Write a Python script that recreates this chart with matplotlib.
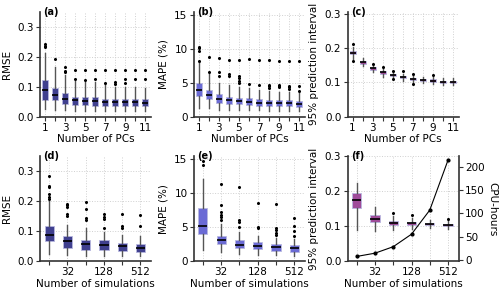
import matplotlib
matplotlib.use("Agg")
import matplotlib.pyplot as plt

# ---- data ----
n_pcs = list(range(1, 12))
pc_ticklabels = ["1", "", "3", "", "5", "", "7", "", "9", "", "11"]

n_sims = [16, 32, 64, 128, 256, 512]
sim_ticklabels = ["", "32", "", "128", "", "512"]

# (a) RMSE vs number of PCs: q1, median, q3, whisker low, whisker high, fliers
rmse_pc_q1 = [0.057, 0.057, 0.042, 0.037, 0.037, 0.036, 0.035, 0.034, 0.034, 0.034, 0.034]
rmse_pc_med = [0.090, 0.072, 0.060, 0.054, 0.053, 0.052, 0.048, 0.047, 0.047, 0.047, 0.046]
rmse_pc_q3 = [0.122, 0.097, 0.080, 0.066, 0.065, 0.064, 0.060, 0.058, 0.058, 0.058, 0.058]
rmse_pc_lo = [0.025, 0.023, 0.023, 0.018, 0.018, 0.018, 0.018, 0.017, 0.017, 0.017, 0.017]
rmse_pc_hi = [0.212, 0.166, 0.140, 0.118, 0.116, 0.116, 0.110, 0.100, 0.098, 0.098, 0.095]
rmse_pc_fl = [[0.232, 0.236, 0.244], [0.192], [0.148, 0.152, 0.165], [0.125, 0.157],
              [0.121, 0.157], [0.124, 0.157], [0.113, 0.155], [0.11, 0.116, 0.155],
              [0.112, 0.125, 0.155], [0.125, 0.157], [0.125, 0.154]]

# (b) MAPE (%) vs number of PCs
mape_pc_q1 = [2.95, 2.6, 2.0, 1.8, 1.8, 1.65, 1.6, 1.5, 1.5, 1.5, 1.45]
mape_pc_med = [3.9, 3.2, 2.65, 2.4, 2.35, 2.2, 2.05, 2.0, 1.95, 1.95, 1.85]
mape_pc_q3 = [4.9, 3.9, 3.3, 2.9, 2.8, 2.7, 2.6, 2.5, 2.45, 2.4, 2.35]
mape_pc_lo = [1.3, 1.2, 1.0, 0.9, 0.9, 0.9, 0.9, 0.85, 0.85, 0.85, 0.8]
mape_pc_hi = [8.0, 6.2, 4.9, 4.7, 4.3, 4.2, 3.9, 3.7, 3.6, 3.6, 3.5]
mape_pc_fl = [[8.2, 9.7, 10.1, 10.3], [6.6, 8.7], [6.0, 6.6, 8.6], [6.0, 6.2, 8.3],
              [4.9, 5.2, 5.7, 5.9, 8.3], [4.8, 8.4], [4.7, 8.3], [4.2, 4.5, 4.7, 8.3],
              [4.3, 4.5, 4.7, 8.2], [4.0, 4.3, 4.5, 8.2], [3.8, 4.5, 8.1]]

# (c) 95% prediction interval vs number of PCs
pi_pc_q1 = [0.181, 0.154, 0.137, 0.125, 0.117, 0.111, 0.106, 0.104, 0.102, 0.099, 0.098]
pi_pc_med = [0.186, 0.158, 0.140, 0.129, 0.120, 0.114, 0.110, 0.107, 0.105, 0.102, 0.101]
pi_pc_q3 = [0.190, 0.161, 0.143, 0.132, 0.123, 0.117, 0.113, 0.110, 0.108, 0.105, 0.104]
pi_pc_lo = [0.168, 0.147, 0.129, 0.115, 0.111, 0.104, 0.098, 0.099, 0.096, 0.092, 0.092]
pi_pc_hi = [0.202, 0.171, 0.150, 0.140, 0.131, 0.125, 0.120, 0.115, 0.115, 0.113, 0.113]
pi_pc_fl = [[0.161, 0.212], [], [0.154], [0.145], [0.110, 0.132], [0.133],
            [0.094, 0.124], [], [0.122], [], []]

# (d) RMSE vs number of simulations
rmse_sim_q1 = [0.066, 0.045, 0.037, 0.037, 0.034, 0.030]
rmse_sim_med = [0.086, 0.066, 0.058, 0.054, 0.049, 0.045]
rmse_sim_q3 = [0.117, 0.085, 0.071, 0.069, 0.062, 0.057]
rmse_sim_lo = [0.023, 0.020, 0.018, 0.018, 0.017, 0.016]
rmse_sim_hi = [0.200, 0.119, 0.111, 0.097, 0.088, 0.083]
rmse_sim_fl = [[0.207, 0.215, 0.224, 0.247, 0.252, 0.283], [0.150, 0.156, 0.181, 0.186, 0.191],
               [0.138, 0.144, 0.173, 0.196], [0.110, 0.139, 0.148, 0.156], [0.111, 0.117, 0.156],
               [0.117, 0.154]]

# (e) MAPE (%) vs number of simulations
mape_sim_q1 = [4.05, 2.5, 1.86, 1.76, 1.47, 1.37]
mape_sim_med = [5.2, 3.05, 2.35, 2.15, 2.0, 1.85]
mape_sim_q3 = [7.75, 3.7, 3.1, 2.85, 2.5, 2.35]
mape_sim_lo = [1.6, 1.3, 1.0, 0.9, 0.9, 0.8]
mape_sim_hi = [12.0, 5.4, 4.3, 3.7, 3.4, 3.2]
mape_sim_fl = [[14.1, 14.75], [6.0, 6.5, 6.8, 7.25, 8.2, 11.3], [5.05, 5.7, 6.0, 10.9],
               [4.9, 5.0, 8.6], [3.8, 4.2, 4.5, 4.8, 8.4], [3.7, 4.4, 5.1, 6.4]]

# (f) 95% prediction interval vs number of simulations + CPU cost
pi_sim_q1 = [0.152, 0.113, 0.103, 0.104, 0.104, 0.101]
pi_sim_med = [0.175, 0.121, 0.110, 0.109, 0.107, 0.104]
pi_sim_q3 = [0.194, 0.131, 0.116, 0.113, 0.110, 0.107]
pi_sim_lo = [0.088, 0.086, 0.088, 0.093, 0.096, 0.093]
pi_sim_hi = [0.225, 0.155, 0.130, 0.124, 0.118, 0.117]
pi_sim_fl = [[], [], [0.138], [0.132], [], [0.120]]
cpu_hours = [7, 14, 28, 55, 107, 215]

C_RMSE = "#40408f"
C_MAPE = "#6b6bd5"
C_PI = "#a04c9a"
GRID = "#d0d0d0"
SPINE = "#333333"
FS = 7.5


def make_stats(q1, med, q3, lo, hi, fl):
    stats = []
    for i in range(len(med)):
        stats.append({"q1": q1[i], "med": med[i], "q3": q3[i],
                      "whislo": lo[i], "whishi": hi[i], "fliers": fl[i]})
    return stats


def draw_box(ax, stats, positions, color, width):
    ax.bxp(stats, positions=positions, widths=width, patch_artist=True,
           showfliers=True, manage_ticks=False,
           boxprops=dict(facecolor=color, edgecolor="#b8b8e0", linewidth=0.6),
           medianprops=dict(color="black", linewidth=1.2),
           whiskerprops=dict(color="#555555", linewidth=1.0),
           capprops=dict(linewidth=0),
           flierprops=dict(marker="o", markersize=1.2, markerfacecolor="black",
                           markeredgecolor="black", linestyle="none"))


def style(ax, label):
    ax.grid(True, color=GRID, linestyle=":", linewidth=0.7)
    ax.set_axisbelow(True)
    for s in ["top", "right"]:
        ax.spines[s].set_visible(False)
    for s in ["left", "bottom"]:
        ax.spines[s].set_color(SPINE)
        ax.spines[s].set_linewidth(1.2)
    ax.tick_params(labelsize=FS, length=3, width=0.8, color=SPINE, pad=1.5)
    ax.text(0.03, 1.0, label, transform=ax.transAxes, fontsize=7,
            fontweight="bold", va="center", ha="left")


plt.rcParams["font.family"] = ["DejaVu Sans"]
fig, axes = plt.subplots(2, 3, figsize=(5.0, 2.96), dpi=100)
fig.subplots_adjust(left=0.08, right=0.918, top=0.96, bottom=0.118, wspace=0.38, hspace=0.38)

pos_pc = n_pcs
pos_sim = list(range(1, len(n_sims) + 1))

# top row
ax = axes[0, 0]
draw_box(ax, make_stats(rmse_pc_q1, rmse_pc_med, rmse_pc_q3, rmse_pc_lo, rmse_pc_hi, rmse_pc_fl),
         pos_pc, C_RMSE, 0.6)
ax.set_ylim(0, 0.35)
ax.set_yticks([0.0, 0.1, 0.2, 0.3])
ax.set_ylabel("RMSE", fontsize=FS)

ax = axes[0, 1]
draw_box(ax, make_stats(mape_pc_q1, mape_pc_med, mape_pc_q3, mape_pc_lo, mape_pc_hi, mape_pc_fl),
         pos_pc, C_MAPE, 0.6)
ax.set_ylim(0, 15.4)
ax.set_yticks([0, 5, 10, 15])
ax.set_ylabel("MAPE (%)", fontsize=FS)

ax = axes[0, 2]
draw_box(ax, make_stats(pi_pc_q1, pi_pc_med, pi_pc_q3, pi_pc_lo, pi_pc_hi, pi_pc_fl),
         pos_pc, C_PI, 0.6)
ax.set_ylim(0, 0.305)
ax.set_yticks([0.0, 0.1, 0.2, 0.3])
ax.set_ylabel("95% prediction interval", fontsize=FS)

for ax, lab in zip(axes[0], ["(a)", "(b)", "(c)"]):
    ax.set_xlim(0.5, 11.6)
    ax.set_xticks(pos_pc)
    ax.set_xticklabels(pc_ticklabels)
    ax.set_xlabel("Number of PCs", fontsize=FS, labelpad=1)
    style(ax, lab)

# bottom row
ax = axes[1, 0]
draw_box(ax, make_stats(rmse_sim_q1, rmse_sim_med, rmse_sim_q3, rmse_sim_lo, rmse_sim_hi, rmse_sim_fl),
         pos_sim, C_RMSE, 0.5)
ax.set_ylim(0, 0.35)
ax.set_yticks([0.0, 0.1, 0.2, 0.3])
ax.set_ylabel("RMSE", fontsize=FS)

ax = axes[1, 1]
draw_box(ax, make_stats(mape_sim_q1, mape_sim_med, mape_sim_q3, mape_sim_lo, mape_sim_hi, mape_sim_fl),
         pos_sim, C_MAPE, 0.5)
ax.set_ylim(0, 15.4)
ax.set_yticks([0, 5, 10, 15])
ax.set_ylabel("MAPE (%)", fontsize=FS)

ax = axes[1, 2]
draw_box(ax, make_stats(pi_sim_q1, pi_sim_med, pi_sim_q3, pi_sim_lo, pi_sim_hi, pi_sim_fl),
         pos_sim, C_PI, 0.5)
ax.set_ylim(0, 0.3)
ax.set_yticks([0.0, 0.1, 0.2, 0.3])
ax.set_ylabel("95% prediction interval", fontsize=FS)

for ax, lab in zip(axes[1], ["(d)", "(e)", "(f)"]):
    ax.set_xlim(0.5, 6.6)
    ax.set_xticks(pos_sim)
    ax.set_xticklabels(sim_ticklabels)
    ax.set_xlabel("Number of simulations", fontsize=FS, labelpad=1)
    style(ax, lab)

# CPU hours on twin axis
axr = axes[1, 2].twinx()
axr.plot(pos_sim, cpu_hours, color="black", linewidth=0.8, marker="o", markersize=2)
axr.set_ylim(-3, 223)
axr.set_yticks([0, 50, 100, 150, 200])
axr.set_ylabel("CPU-hours", fontsize=FS, rotation=270, labelpad=9)
for s in ["top", "left", "bottom"]:
    axr.spines[s].set_visible(False)
axr.spines["right"].set_color(SPINE)
axr.spines["right"].set_linewidth(1.2)
axr.tick_params(labelsize=FS, length=3, width=0.8, color=SPINE, pad=1.5)

fig.savefig("out.png", dpi=100)
